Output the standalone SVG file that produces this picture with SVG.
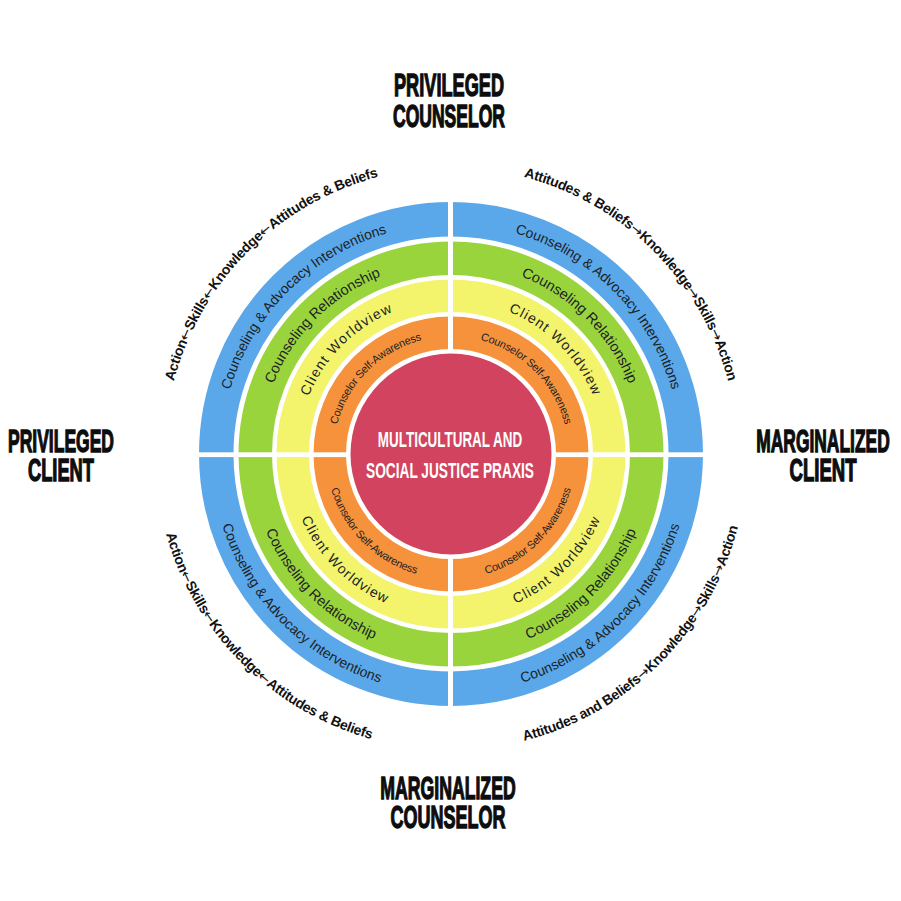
<svg xmlns="http://www.w3.org/2000/svg" xmlns:xlink="http://www.w3.org/1999/xlink" width="901" height="901" viewBox="0 0 901 901">
<style>
.ring{fill:none}
.lbl{font-family:"Liberation Sans",Arial,sans-serif;fill:#1c1f26;text-anchor:middle}
.blue{font-size:14px}
.green{font-size:14.5px}
.yellow{font-size:14px;letter-spacing:1.2px}
.orange{font-size:11px;letter-spacing:-0.2px}
.outer{font-family:"Liberation Sans",Arial,sans-serif;font-size:14px;font-weight:bold;fill:#111;text-anchor:middle;letter-spacing:-0.3px}
.arr{font-family:"DejaVu Sans",sans-serif;font-weight:normal;letter-spacing:0}
.head{font-family:"Liberation Sans",Arial,sans-serif;font-size:32px;font-weight:bold;fill:#0d0d0d;stroke:#0d0d0d;stroke-width:1.4;text-anchor:middle}
.ctr{font-family:"Liberation Sans",Arial,sans-serif;font-size:22px;font-weight:bold;fill:#fff;text-anchor:middle}
</style>
<defs>
<path id="tBlue" d="M 221 454 A 230 230 0 0 1 681 454"/>
<path id="bBlue" d="M 211.5 454 A 239.5 239.5 0 0 0 690.5 454"/>
<path id="tGreen" d="M 260 454 A 191 191 0 0 1 642 454"/>
<path id="bGreen" d="M 250.5 454 A 200.5 200.5 0 0 0 651.5 454"/>
<path id="tYellow" d="M 297.4 454 A 153.6 153.6 0 0 1 604.6 454"/>
<path id="bYellow" d="M 288.1 454 A 162.9 162.9 0 0 0 613.9 454"/>
<path id="tOrange" d="M 333.4 454 A 117.6 117.6 0 0 1 568.6 454"/>
<path id="bOrange" d="M 326.1 454 A 124.9 124.9 0 0 0 575.9 454"/>
<path id="tOuter" d="M 164.5 454 A 286.5 286.5 0 0 1 737.5 454"/>
<path id="bOuter" d="M 155 454 A 296 296 0 0 0 747 454"/>
</defs>
<rect width="901" height="901" fill="#fff"/>

<g id="ring-blue">
<circle class="ring" cx="451" cy="454" r="234.75" stroke="#5aa8ea" stroke-width="34.5"/>
</g>
<g id="ring-green">
<circle class="ring" cx="451" cy="454" r="195.75" stroke="#9ad43c" stroke-width="33.5"/>
</g>
<g id="ring-yellow">
<circle class="ring" cx="451" cy="454" r="158.25" stroke="#f3f36c" stroke-width="32.5"/>
</g>
<g id="ring-orange">
<circle class="ring" cx="451" cy="454" r="121.25" stroke="#f6923c" stroke-width="32.5"/>
</g>
<g id="dividers" fill="#fff">
<rect x="448" y="198" width="5" height="512"/>
<rect x="195" y="452.3" width="512" height="4.8"/>
</g>
<g id="center">
<circle cx="451" cy="454" r="100.5" fill="#d1435e"/>
<text class="ctr" transform="translate(450,447) scale(0.611,1)">MULTICULTURAL AND</text>
<text class="ctr" transform="translate(450,478) scale(0.623,1)">SOCIAL JUSTICE PRAXIS</text>
</g>

<g id="labels-blue">
<text class="lbl blue"><textPath xlink:href="#tBlue" href="#tBlue" startOffset="25%">Counseling &amp; Advocacy Interventions</textPath></text>
<text class="lbl blue"><textPath xlink:href="#tBlue" href="#tBlue" startOffset="75%">Counseling &amp; Advocacy Interventions</textPath></text>
<text class="lbl blue"><textPath xlink:href="#bBlue" href="#bBlue" startOffset="25%">Counseling &amp; Advocacy Interventions</textPath></text>
<text class="lbl blue"><textPath xlink:href="#bBlue" href="#bBlue" startOffset="75%">Counseling &amp; Advocacy Interventions</textPath></text>
</g>
<g id="labels-green">
<text class="lbl green"><textPath xlink:href="#tGreen" href="#tGreen" startOffset="25%">Counseling Relationship</textPath></text>
<text class="lbl green"><textPath xlink:href="#tGreen" href="#tGreen" startOffset="75%">Counseling Relationship</textPath></text>
<text class="lbl green"><textPath xlink:href="#bGreen" href="#bGreen" startOffset="25%">Counseling Relationship</textPath></text>
<text class="lbl green"><textPath xlink:href="#bGreen" href="#bGreen" startOffset="75%">Counseling Relationship</textPath></text>
</g>
<g id="labels-yellow">
<text class="lbl yellow"><textPath xlink:href="#tYellow" href="#tYellow" startOffset="25%">Client Worldview</textPath></text>
<text class="lbl yellow"><textPath xlink:href="#tYellow" href="#tYellow" startOffset="75%">Client Worldview</textPath></text>
<text class="lbl yellow"><textPath xlink:href="#bYellow" href="#bYellow" startOffset="25%">Client Worldview</textPath></text>
<text class="lbl yellow"><textPath xlink:href="#bYellow" href="#bYellow" startOffset="75%">Client Worldview</textPath></text>
</g>
<g id="labels-orange">
<text class="lbl orange"><textPath xlink:href="#tOrange" href="#tOrange" startOffset="25%">Counselor Self-Awareness</textPath></text>
<text class="lbl orange"><textPath xlink:href="#tOrange" href="#tOrange" startOffset="75%">Counselor Self-Awareness</textPath></text>
<text class="lbl orange"><textPath xlink:href="#bOrange" href="#bOrange" startOffset="25%">Counselor Self-Awareness</textPath></text>
<text class="lbl orange"><textPath xlink:href="#bOrange" href="#bOrange" startOffset="75%">Counselor Self-Awareness</textPath></text>
</g>
<g id="outer-sequences">
<text class="outer"><textPath xlink:href="#tOuter" href="#tOuter" startOffset="25%">Action<tspan class="arr">←</tspan>Skills<tspan class="arr">←</tspan>Knowledge<tspan class="arr">←</tspan>Attitudes &amp; Beliefs</textPath></text>
<text class="outer"><textPath xlink:href="#tOuter" href="#tOuter" startOffset="75%">Attitudes &amp; Beliefs<tspan class="arr">→</tspan>Knowledge<tspan class="arr">→</tspan>Skills<tspan class="arr">→</tspan>Action</textPath></text>
<text class="outer"><textPath xlink:href="#bOuter" href="#bOuter" startOffset="25%">Action<tspan class="arr">←</tspan>Skills<tspan class="arr">←</tspan>Knowledge<tspan class="arr">←</tspan>Attitudes &amp; Beliefs</textPath></text>
<text class="outer"><textPath xlink:href="#bOuter" href="#bOuter" startOffset="75%">Attitudes and Beliefs<tspan class="arr">→</tspan>Knowledge<tspan class="arr">→</tspan>Skills<tspan class="arr">→</tspan>Action</textPath></text>
</g>

<g id="privileged-counselor">
<text class="head" transform="translate(449,96) scale(0.568,1)">PRIVILEGED</text>
<text class="head" transform="translate(449,127) scale(0.548,1)">COUNSELOR</text>
</g>
<g id="privileged-client">
<text class="head" transform="translate(61,452) scale(0.547,1)">PRIVILEGED</text>
<text class="head" transform="translate(61,481) scale(0.571,1)">CLIENT</text>
</g>
<g id="marginalized-client">
<text class="head" transform="translate(823,452) scale(0.544,1)">MARGINALIZED</text>
<text class="head" transform="translate(823,481) scale(0.58,1)">CLIENT</text>
</g>
<g id="marginalized-counselor">
<text class="head" transform="translate(448,799) scale(0.552,1)">MARGINALIZED</text>
<text class="head" transform="translate(448,828) scale(0.563,1)">COUNSELOR</text>
</g>
</svg>
